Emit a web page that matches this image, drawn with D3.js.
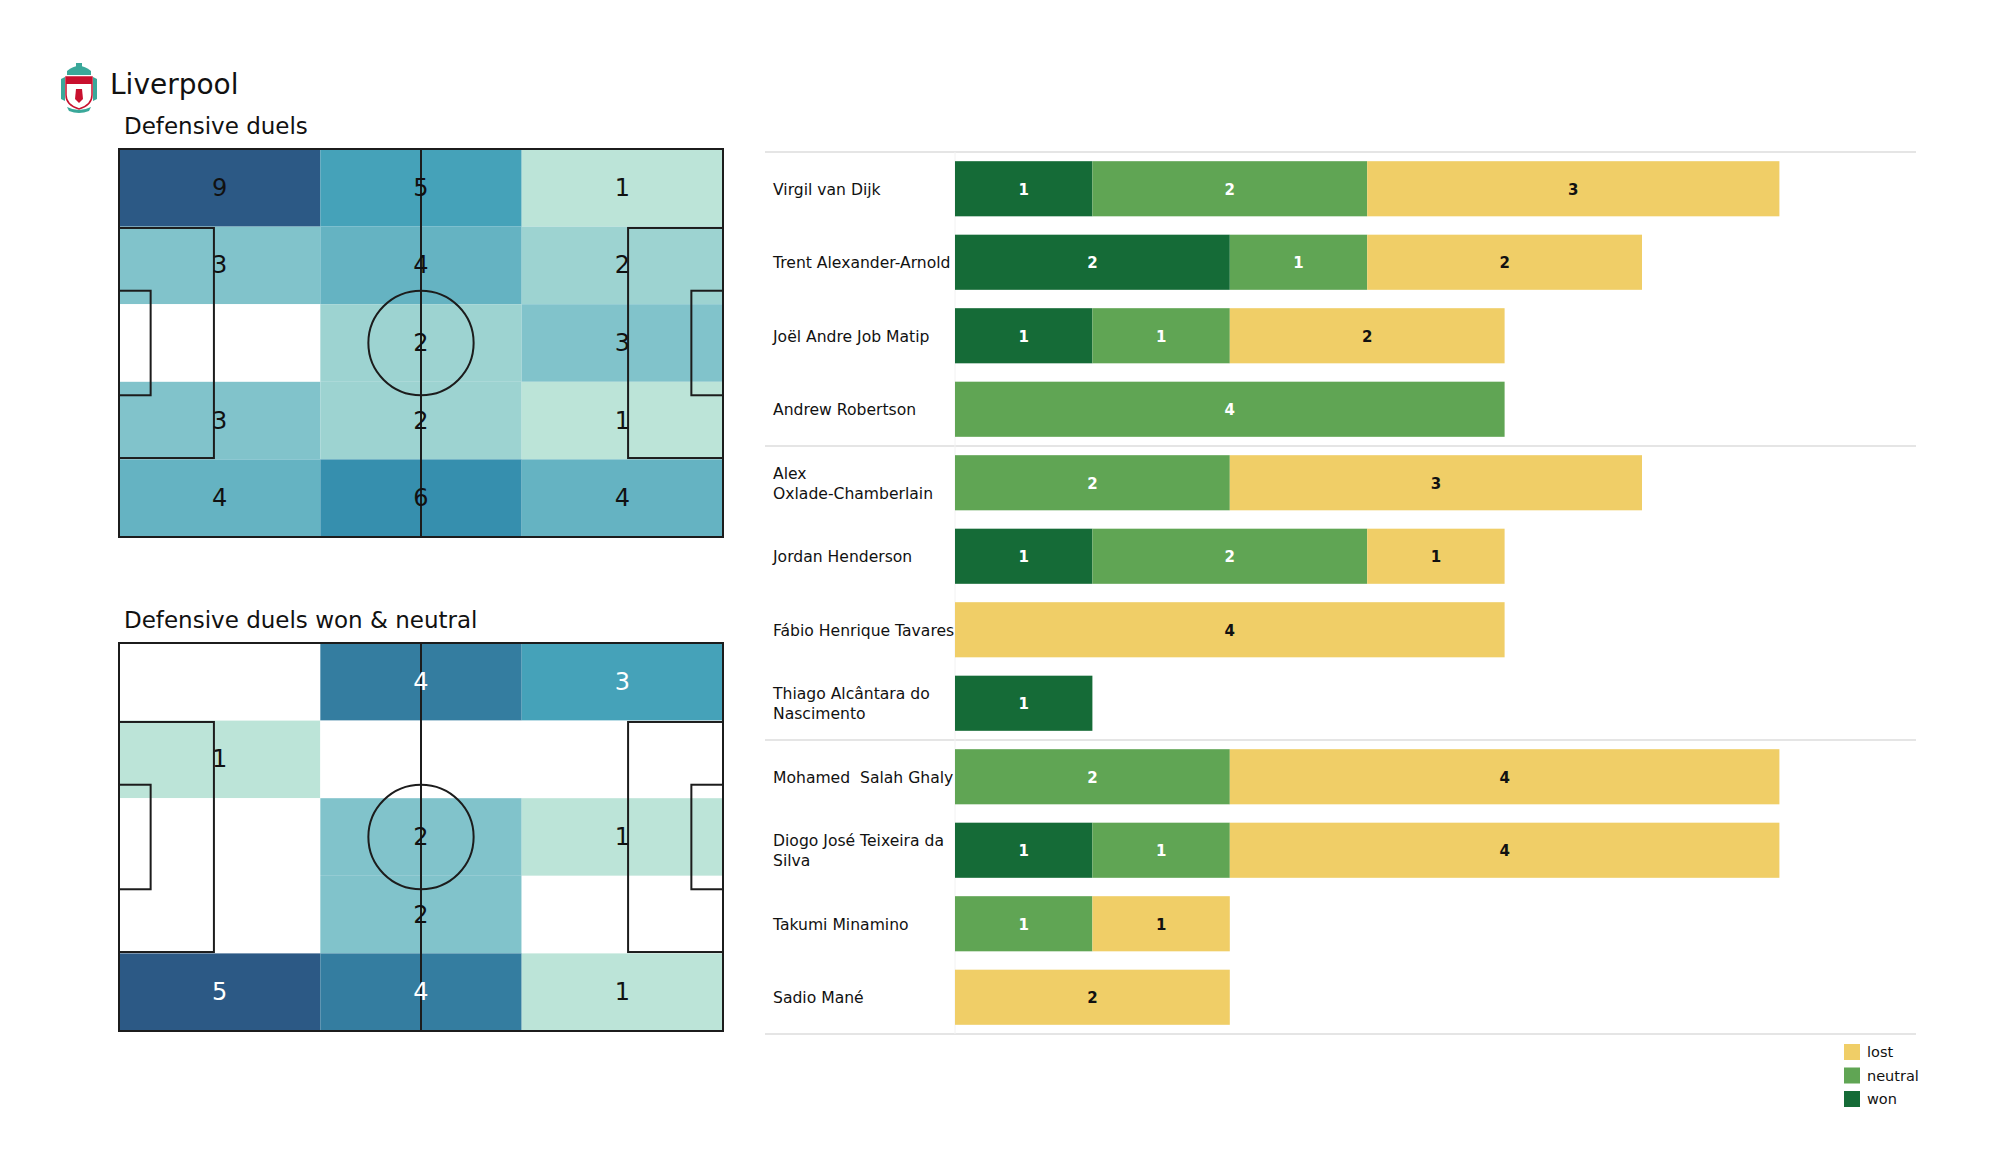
<!DOCTYPE html>
<html><head><meta charset="utf-8">
<script src="https://cdn.jsdelivr.net/npm/d3@7"></script>
<style>body{margin:0;background:#fff}svg{display:block;font-family:"DejaVu Sans",sans-serif}</style>
</head><body>
<svg id="c" width="2000" height="1175"></svg>
<script>
// ---------- data ----------
const teamName = "Liverpool";
const pitchTitles = ["Defensive duels", "Defensive duels won & neutral"];
// rows top -> bottom, columns left -> right
const duelsGrid = [
  [9, 5, 1],
  [3, 4, 2],
  [0, 2, 3],
  [3, 2, 1],
  [4, 6, 4]
];
const wonNeutralGrid = [
  [0, 4, 3],
  [1, 0, 0],
  [0, 2, 1],
  [0, 2, 0],
  [5, 4, 1]
];
const palette = ["#bce4d8","#9dd3d1","#81c3cb","#65b3c2","#45a2b9","#368fae","#347da0","#306a93","#2c5985"];

const players = ["Virgil van Dijk","Trent Alexander-Arnold","Joël Andre Job Matip","Andrew Robertson",
  "Alex Oxlade-Chamberlain","Jordan Henderson","Fábio Henrique Tavares","Thiago Alcântara do Nascimento",
  "Mohamed  Salah Ghaly","Diogo José Teixeira da Silva","Takumi Minamino","Sadio Mané"];
const won     = [1,2,1,0, 0,1,0,1, 0,1,0,0];
const neutral = [2,1,1,4, 2,2,0,0, 2,1,1,0];
const lost    = [3,2,2,0, 3,1,4,0, 4,4,1,2];
const seriesNames = ["won","neutral","lost"];
const seriesColors = {won:"#156b37", neutral:"#60a554", lost:"#f0ce67"};
const groupSize = 4;

// ---------- setup ----------
const svg = d3.select("#c");

// crest (simplified)
const crest = svg.append("g").attr("transform","translate(61,61)");
crest.append("path").attr("d","M6,10 Q18,0 30,10 L30,14 L6,14 Z").attr("fill","#3aa89a");
crest.append("rect").attr("x",15).attr("y",2).attr("width",6).attr("height",8).attr("fill","#3aa89a");
crest.append("path").attr("d","M5,16 L31,16 L31,34 Q31,44 18,48 Q5,44 5,34 Z").attr("fill","#fff").attr("stroke","#c8102e").attr("stroke-width",1.5);
crest.append("rect").attr("x",5).attr("y",16).attr("width",26).attr("height",7).attr("fill","#c8102e");
crest.append("path").attr("d","M15,28 L21,28 L22,38 L18,42 L14,38 Z").attr("fill","#c8102e");
crest.append("path").attr("d","M0,18 L4,16 L4,40 L0,38 Z M36,18 L32,16 L32,40 L36,38 Z").attr("fill","#3aa89a");
crest.append("path").attr("d","M6,46 Q18,52 30,46 L28,50 Q18,54 8,50 Z").attr("fill","#3aa89a");

svg.append("text").attr("x",110).attr("y",94).attr("font-size",28).attr("fill","#111").text(teamName);

// ---------- pitches ----------
const pitchW = 105, pitchH = 68;
function drawPitch(grid, top, title, whiteFrom) {
  const x = d3.scaleLinear().domain([0,pitchW]).range([119,723]);
  const y = d3.scaleLinear().domain([0,pitchH]).range([top, top+388]);
  svg.append("text").attr("x",124).attr("y",top-15).attr("font-size",23).attr("fill","#111").text(title);
  const nR = grid.length, nC = grid[0].length;
  const maxV = d3.max(grid.flat());
  const color = d3.scaleLinear()
    .domain(palette.map((_,i)=>1 + i*(maxV-1)/(palette.length-1)))
    .range(palette).clamp(true);
  const cells = [];
  grid.forEach((row,r)=>row.forEach((v,c)=>cells.push({r,c,v})));
  const g = svg.append("g");
  g.selectAll("rect.cell").data(cells).join("rect")
    .attr("x",d=>x(d.c*pitchW/nC)).attr("y",d=>y(d.r*pitchH/nR))
    .attr("width",x(pitchW/nC)-x(0)).attr("height",y(pitchH/nR)-y(0))
    .attr("fill",d=>d.v>0?color(d.v):"#fff");
  // lines
  const L = g.append("g").attr("fill","none").attr("stroke","#1c1c1c").attr("stroke-width",2);
  L.append("rect").attr("x",x(0)).attr("y",y(0)).attr("width",x(pitchW)-x(0)).attr("height",y(pitchH)-y(0));
  L.append("line").attr("x1",x(pitchW/2)).attr("x2",x(pitchW/2)).attr("y1",y(0)).attr("y2",y(pitchH));
  L.append("ellipse").attr("cx",x(pitchW/2)).attr("cy",y(pitchH/2))
    .attr("rx",x(9.15)-x(0)).attr("ry",y(9.15)-y(0));
  [[0,16.5,13.84,54.16],[0,5.5,24.84,43.16]].forEach(([a,w,y0,y1])=>{
    L.append("rect").attr("x",x(a)).attr("y",y(y0)).attr("width",x(w)-x(0)).attr("height",y(y1)-y(y0));
    L.append("rect").attr("x",x(pitchW-w)).attr("y",y(y0)).attr("width",x(w)-x(0)).attr("height",y(y1)-y(y0));
  });
  g.selectAll("text.val").data(cells.filter(d=>d.v>0)).join("text")
    .attr("x",d=>x((d.c+0.5)*pitchW/nC)).attr("y",d=>y((d.r+0.5)*pitchH/nR))
    .attr("text-anchor","middle").attr("dominant-baseline","central")
    .attr("font-size",24).attr("fill",d=>d.v>=whiteFrom?"#fff":"#111").text(d=>d.v);
}
drawPitch(duelsGrid, 149, pitchTitles[0], Infinity);
drawPitch(wonNeutralGrid, 643, pitchTitles[1], 3);

// ---------- bars ----------
const rows = players.map((p,i)=>({player:p, won:won[i], neutral:neutral[i], lost:lost[i]}));
const yB = d3.scaleBand().domain(players).range([152,1034]).paddingInner(0.25).paddingOuter(0.125);
const xB = d3.scaleLinear().domain([0,6]).range([955,955+6*137.4]);
const stack = d3.stack().keys(seriesNames)(rows);

// separators
const step = yB.step();
const sepYs = d3.range(0, players.length+1, groupSize).map(i=> i===0 ? 152 : (i===players.length ? 1034 : yB(players[i]) - (step-yB.bandwidth())/2));
svg.append("g").selectAll("line").data(sepYs).join("line")
  .attr("x1",765).attr("x2",1916).attr("y1",d=>d).attr("y2",d=>d)
  .attr("stroke","#dcdcdc").attr("stroke-width",1.5);
svg.append("line").attr("x1",955).attr("x2",955).attr("y1",152).attr("y2",1034).attr("stroke","#f2f2f2").attr("stroke-width",1);

const bg = svg.append("g");
stack.forEach(s=>{
  const key = s.key;
  const segs = s.map((d,i)=>({key, x0:d[0], x1:d[1], v:d.data[key], p:d.data.player})).filter(d=>d.v>0);
  bg.selectAll(null).data(segs).join("rect")
    .attr("x",d=>xB(d.x0)).attr("width",d=>xB(d.x1)-xB(d.x0))
    .attr("y",d=>yB(d.p)).attr("height",yB.bandwidth()).attr("fill",seriesColors[key]);
  bg.selectAll(null).data(segs).join("text")
    .attr("x",d=>(xB(d.x0)+xB(d.x1))/2).attr("y",d=>yB(d.p)+yB.bandwidth()/2+1)
    .attr("text-anchor","middle").attr("dominant-baseline","central")
    .attr("font-size",15).attr("font-weight","bold")
    .attr("fill",key==="lost"?"#111":"#fff").text(d=>d.v);
});

// names (wrap at 22 chars on spaces)
function wrap(s, w){
  const words = s.split(" "); const lines=[]; let cur=null;
  words.forEach(wd=>{
    if(cur===null){cur=wd;}
    else if((cur+" "+wd).length<=w){cur=cur+" "+wd;}
    else {lines.push(cur); cur=wd;}
  });
  lines.push(cur); return lines;
}
const nameG = svg.append("g");
players.forEach(p=>{
  const lines = wrap(p,22);
  const cy = yB(p)+yB.bandwidth()/2 + 1;
  const lh = 20;
  const t = nameG.append("text").attr("x",773).attr("font-size",15.6).attr("fill","#111")
    .attr("xml:space","preserve").style("white-space","pre");
  lines.forEach((ln,k)=>{
    t.append("tspan").attr("x",773).attr("y",cy+(k-(lines.length-1)/2)*lh)
      .attr("dominant-baseline","central").text(ln);
  });
});

// legend
const legendOrder = ["lost","neutral","won"];
const lg = svg.append("g");
legendOrder.forEach((k,i)=>{
  lg.append("rect").attr("x",1844).attr("y",1044+i*23.5).attr("width",16).attr("height",16).attr("fill",seriesColors[k]);
  lg.append("text").attr("x",1867).attr("y",1052+i*23.5).attr("dominant-baseline","central")
    .attr("font-size",14.5).attr("fill","#111").text(k);
});
</script>
</body></html>
